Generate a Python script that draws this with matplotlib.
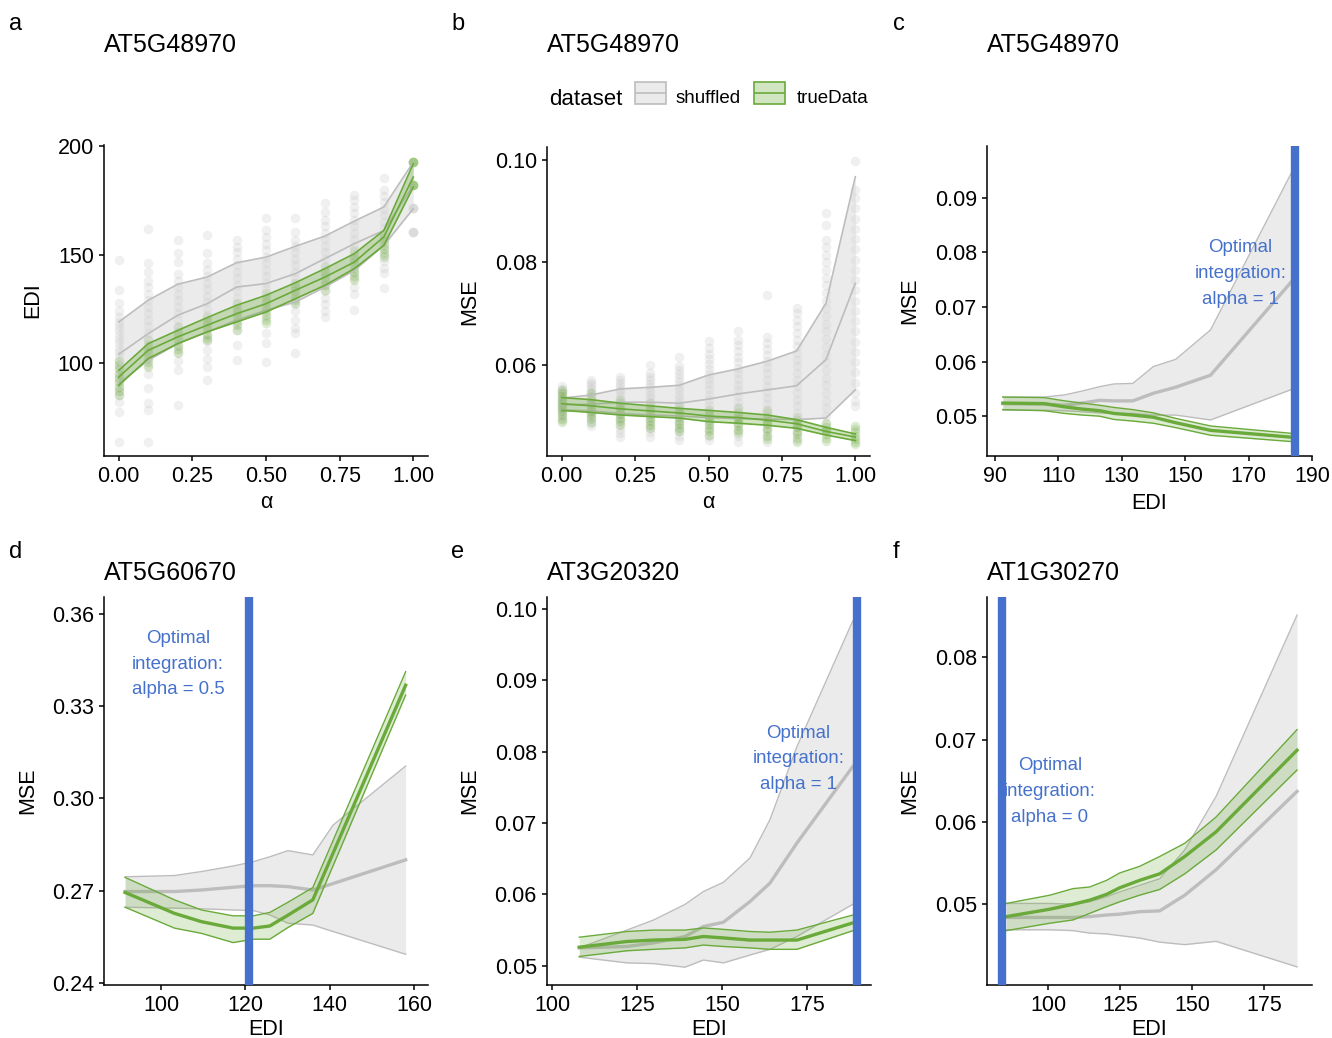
import matplotlib
matplotlib.use('Agg')
import matplotlib.pyplot as plt
from matplotlib.patches import Rectangle
from matplotlib.lines import Line2D
from matplotlib.ticker import FormatStrFormatter

plt.rcParams['font.family'] = ['Liberation Sans', 'DejaVu Sans']

# ---------------- data ----------------
alphas = [0.0, 0.1, 0.2, 0.3, 0.4, 0.5, 0.6, 0.7, 0.8, 0.9, 1.0]

# panel a: EDI vs alpha
a_shuf_hi = [118.9, 128.9, 136.3, 139.6, 146.2, 148.8, 153.8, 158.5, 165.4, 171.9, 192.6]
a_shuf_mean = [104.0, 113.5, 122.0, 127.3, 135.0, 136.6, 141.2, 148.1, 155.0, 161.1, 181.9]
a_shuf_lo = [90.5, 101.2, 108.9, 114.3, 119.7, 124.3, 128.1, 135.0, 142.7, 154.2, 171.1]
a_true_hi = [96.6, 108.9, 115.0, 120.9, 126.6, 131.2, 137.0, 143.5, 150.4, 161.1, 191.9]
a_true_mean = [93.5, 105.8, 112.0, 117.4, 122.7, 127.3, 133.5, 139.6, 146.5, 158.1, 185.7]
a_true_lo = [89.7, 102.0, 108.9, 114.3, 118.9, 123.5, 129.6, 135.8, 143.5, 154.2, 181.1]

a_shuf_points = [
    [147.5, 133.6, 127.5, 124, 121, 119, 117, 115, 113, 111, 109, 107, 105, 103, 101, 99, 97, 95, 93, 91, 89, 87, 85, 82, 77.6, 63.7],
    [161.6, 145.9, 142, 138, 135, 132, 129, 126, 123, 120, 117, 114, 111, 108, 105, 102, 99, 95, 88.3, 81.4, 78.3, 63.7],
    [156.7, 150.5, 146.7, 141, 138, 135, 132, 129, 126, 123, 120, 117, 114, 111, 108, 105, 101, 96.8, 80.6],
    [159, 150.5, 146, 143, 140, 137, 134, 131, 128, 125, 122, 119, 116, 113, 110, 106, 102, 98.3, 92.2],
    [156.7, 153.6, 151, 148, 145, 142, 139, 136, 133, 130, 127, 124, 121, 118, 115, 108.3, 101.4],
    [166.7, 161.3, 158, 155, 152, 149, 146, 143, 140, 137, 134, 131, 128, 125, 121.4, 113.7, 109, 100.6],
    [166.7, 160.5, 156.7, 154, 151, 148, 145, 142, 139, 136, 133, 130, 127, 124, 120, 116, 113.7, 104.5],
    [173.6, 169.7, 166, 163, 160, 157, 154, 151, 148, 145, 142, 139, 136, 133, 130, 127, 124, 121.4],
    [177.4, 175, 172, 169, 166, 163, 160, 157, 154, 151, 148, 145, 142, 139, 135, 132, 124.4],
    [185.1, 179.7, 177, 174, 171, 168, 165, 162, 159, 156, 153, 150, 147, 144, 141.3, 134.4],
    [171.3, 171.3, 171.3, 160.5, 160.5, 160.5],
]
a_true_points = [
    [101, 99, 97, 95, 93, 91, 89, 87, 85],
    [110.6, 108.5, 106.5, 104.5, 102.5, 100.5, 98.3],
    [116.7, 114.5, 112.5, 110.5, 108.5, 106.5, 104.5],
    [121.4, 119.5, 117.5, 115.5, 113.5, 111.5, 110.6],
    [127.5, 125.5, 123.5, 121.5, 119.5, 117.5, 115.2],
    [132.1, 130, 128, 126, 124, 122, 120, 118.3],
    [136.7, 135, 133, 131, 129, 127.5],
    [144.4, 142, 140, 138, 136, 133.6],
    [152, 150, 148, 146, 144, 142, 140, 138.2],
    [158.2, 156.5, 154.5, 152.5, 150.5, 149],
    [192.8, 192.8, 192.8, 192.8, 182, 182, 182, 182],
]

# panel b: MSE vs alpha
b_shuf_hi = [0.0535, 0.0541, 0.0553, 0.0556, 0.0560, 0.0580, 0.0592, 0.0607, 0.0627, 0.0720, 0.0967]
b_shuf_mean = [0.0522, 0.0523, 0.0527, 0.0527, 0.0525, 0.0533, 0.0543, 0.0551, 0.0559, 0.0610, 0.0759]
b_shuf_lo = [0.0512, 0.0510, 0.0505, 0.0502, 0.0500, 0.0497, 0.0495, 0.0494, 0.0493, 0.0496, 0.0551]
b_true_hi = [0.0536, 0.0532, 0.0525, 0.0520, 0.0515, 0.0511, 0.0507, 0.0502, 0.0493, 0.0478, 0.0465]
b_true_mean = [0.0524, 0.0520, 0.0514, 0.0510, 0.0506, 0.0500, 0.0497, 0.0492, 0.0485, 0.0470, 0.0459]
b_true_lo = [0.0511, 0.0507, 0.0502, 0.0499, 0.0496, 0.0489, 0.0486, 0.0482, 0.0476, 0.0463, 0.0452]

b_shuf_points = [
    [0.0558, 0.0553, 0.0548, 0.0544, 0.0540, 0.0536, 0.0532, 0.0528, 0.0524, 0.0520, 0.0516, 0.0512, 0.0508, 0.0503, 0.0498, 0.0493],
    [0.0571, 0.0565, 0.0560, 0.0555, 0.0550, 0.0545, 0.0540, 0.0535, 0.0530, 0.0525, 0.0520, 0.0515, 0.0510, 0.0505, 0.0500, 0.0494, 0.0487, 0.0480],
    [0.0577, 0.0570, 0.0564, 0.0558, 0.0552, 0.0546, 0.0540, 0.0534, 0.0528, 0.0522, 0.0516, 0.0510, 0.0504, 0.0498, 0.0492, 0.0485, 0.0475, 0.0466, 0.0460],
    [0.0600, 0.0584, 0.0577, 0.0570, 0.0563, 0.0556, 0.0549, 0.0542, 0.0535, 0.0528, 0.0521, 0.0514, 0.0507, 0.0500, 0.0493, 0.0485, 0.0476, 0.0468, 0.0460],
    [0.0616, 0.0597, 0.0590, 0.0582, 0.0574, 0.0566, 0.0558, 0.0550, 0.0542, 0.0534, 0.0526, 0.0518, 0.0510, 0.0502, 0.0494, 0.0486, 0.0478, 0.0470, 0.0462, 0.0454],
    [0.0646, 0.0632, 0.0622, 0.0612, 0.0602, 0.0592, 0.0582, 0.0572, 0.0562, 0.0552, 0.0542, 0.0532, 0.0522, 0.0512, 0.0502, 0.0492, 0.0482, 0.0472, 0.0462, 0.0454],
    [0.0665, 0.0649, 0.0638, 0.0627, 0.0616, 0.0605, 0.0594, 0.0583, 0.0572, 0.0561, 0.0550, 0.0539, 0.0528, 0.0517, 0.0506, 0.0495, 0.0484, 0.0473, 0.0462, 0.0450],
    [0.0737, 0.0655, 0.0643, 0.0631, 0.0619, 0.0607, 0.0595, 0.0583, 0.0571, 0.0559, 0.0547, 0.0535, 0.0523, 0.0511, 0.0499, 0.0487, 0.0475, 0.0463, 0.0450],
    [0.0711, 0.0701, 0.0688, 0.0675, 0.0662, 0.0649, 0.0636, 0.0623, 0.0610, 0.0597, 0.0584, 0.0571, 0.0558, 0.0545, 0.0532, 0.0519, 0.0506, 0.0493, 0.0480, 0.0467, 0.0454],
    [0.0896, 0.0873, 0.0844, 0.0830, 0.0815, 0.0800, 0.0785, 0.0770, 0.0755, 0.0740, 0.0725, 0.0710, 0.0695, 0.0680, 0.0665, 0.0650, 0.0635, 0.0620, 0.0605, 0.0590, 0.0575, 0.0560, 0.0545, 0.0530, 0.0515, 0.0500, 0.0485, 0.0470],
    [0.0997, 0.0942, 0.0925, 0.0905, 0.0885, 0.0865, 0.0845, 0.0825, 0.0805, 0.0785, 0.0765, 0.0745, 0.0725, 0.0705, 0.0685, 0.0665, 0.0645, 0.0625, 0.0605, 0.0585, 0.0565, 0.0545, 0.0530, 0.0519],
]
b_true_points = [
    [0.0551, 0.0545, 0.0539, 0.0533, 0.0527, 0.0521, 0.0515, 0.0509, 0.0502, 0.0495, 0.0489],
    [0.0545, 0.0538, 0.0531, 0.0524, 0.0517, 0.0510, 0.0503, 0.0496, 0.0489],
    [0.0532, 0.0525, 0.0518, 0.0511, 0.0504, 0.0497, 0.0490, 0.0483],
    [0.0525, 0.0518, 0.0511, 0.0504, 0.0497, 0.0490, 0.0483, 0.0476],
    [0.0519, 0.0512, 0.0505, 0.0498, 0.0491, 0.0484, 0.0477, 0.0470],
    [0.0512, 0.0505, 0.0498, 0.0491, 0.0484, 0.0477, 0.0470, 0.0463],
    [0.0515, 0.0508, 0.0501, 0.0494, 0.0487, 0.0480, 0.0473, 0.0466],
    [0.0512, 0.0505, 0.0498, 0.0491, 0.0484, 0.0477, 0.0470, 0.0462, 0.0456],
    [0.0499, 0.0492, 0.0485, 0.0478, 0.0471, 0.0464, 0.0457, 0.0450],
    [0.0486, 0.0479, 0.0472, 0.0465, 0.0458, 0.0451],
    [0.0480, 0.0474, 0.0468, 0.0462, 0.0456, 0.0450, 0.0445],
]

# panel c: MSE vs EDI, AT5G48970
c_edi = [92.5, 105.5, 112, 117.5, 123, 127.5, 133.5, 140, 147, 158, 184.5]
c_shuf_hi = [0.0535, 0.0535, 0.0539, 0.0546, 0.0554, 0.0559, 0.0560, 0.0591, 0.0604, 0.0658, 0.0957]
c_shuf_mean = [0.0523, 0.0522, 0.0520, 0.0524, 0.0529, 0.0528, 0.0528, 0.0542, 0.0553, 0.0575, 0.0753]
c_shuf_lo = [0.0511, 0.0511, 0.0510, 0.0508, 0.0506, 0.0505, 0.0505, 0.0502, 0.0502, 0.0493, 0.0551]
c_true_hi = [0.0535, 0.0534, 0.0528, 0.0524, 0.0520, 0.0516, 0.0512, 0.0506, 0.0496, 0.0482, 0.0468]
c_true_mean = [0.0524, 0.0523, 0.0517, 0.0513, 0.0510, 0.0505, 0.0502, 0.0498, 0.0488, 0.0474, 0.0461]
c_true_lo = [0.0512, 0.0510, 0.0505, 0.0502, 0.0500, 0.0494, 0.0491, 0.0487, 0.0479, 0.0465, 0.0453]
c_opt_edi = 184.5

# panel d: AT5G60670
d_edi = [91.5, 103.2, 109.6, 117.1, 121.9, 125.8, 130.1, 136.0, 140.8, 158.0]
d_shuf_hi = [0.2745, 0.2749, 0.2762, 0.2780, 0.2794, 0.2810, 0.2830, 0.2816, 0.2913, 0.3105]
d_shuf_mean = [0.2697, 0.2697, 0.2702, 0.2711, 0.2716, 0.2716, 0.2713, 0.2702, 0.2723, 0.2800]
d_shuf_lo = [0.2646, 0.2643, 0.2641, 0.2637, 0.2635, 0.2621, 0.2594, 0.2588, 0.2567, 0.2493]
d_true_hi = [0.2743, 0.2670, 0.2637, 0.2618, 0.2618, 0.2629, 0.2662, 0.2710, 0.2863, 0.3412]
d_true_mean = [0.2694, 0.2626, 0.2599, 0.2578, 0.2578, 0.2585, 0.2620, 0.2670, 0.2822, 0.3368]
d_true_lo = [0.2646, 0.2578, 0.2561, 0.2531, 0.2542, 0.2542, 0.2580, 0.2626, 0.2781, 0.3336]
d_opt_edi = 120.9

# panel e: AT3G20320
e_edi = [108.0, 122.0, 129.8, 139.1, 144.5, 150.4, 158.2, 164.1, 172.0, 188.4]
e_shuf_hi = [0.0525, 0.0550, 0.0564, 0.0586, 0.0604, 0.0617, 0.0651, 0.0705, 0.0807, 0.0983]
e_shuf_mean = [0.0525, 0.0527, 0.0532, 0.0541, 0.0555, 0.0561, 0.0590, 0.0616, 0.0672, 0.0779]
e_shuf_lo = [0.0512, 0.0504, 0.0503, 0.0498, 0.0508, 0.0504, 0.0515, 0.0523, 0.0541, 0.0586]
e_true_hi = [0.0540, 0.0548, 0.0550, 0.0550, 0.0553, 0.0551, 0.0548, 0.0547, 0.0550, 0.0571]
e_true_mean = [0.0526, 0.0534, 0.0536, 0.0537, 0.0541, 0.0539, 0.0536, 0.0536, 0.0536, 0.0560]
e_true_lo = [0.0513, 0.0521, 0.0523, 0.0525, 0.0529, 0.0527, 0.0525, 0.0523, 0.0523, 0.0549]
e_opt_edi = 189.7

# panel f: AT1G30270
f_edi = [85.5, 100.6, 108.7, 114.5, 120.3, 124.9, 131.8, 138.8, 147.5, 158.4, 186.5]
f_shuf_hi = [0.0501, 0.0501, 0.0500, 0.0503, 0.0509, 0.0515, 0.0523, 0.0531, 0.0566, 0.0631, 0.0851]
f_shuf_mean = [0.0484, 0.0484, 0.0484, 0.0485, 0.0487, 0.0488, 0.0491, 0.0492, 0.0511, 0.0542, 0.0637]
f_shuf_lo = [0.0469, 0.0469, 0.0468, 0.0465, 0.0464, 0.0462, 0.0459, 0.0454, 0.0451, 0.0455, 0.0424]
f_true_hi = [0.0501, 0.0511, 0.0519, 0.0521, 0.0529, 0.0538, 0.0546, 0.0558, 0.0574, 0.0606, 0.0712]
f_true_mean = [0.0485, 0.0494, 0.0500, 0.0505, 0.0512, 0.0520, 0.0529, 0.0537, 0.0558, 0.0588, 0.0687]
f_true_lo = [0.0468, 0.0477, 0.0481, 0.0489, 0.0497, 0.0503, 0.0511, 0.0518, 0.0537, 0.0566, 0.0663]
f_opt_edi = 84.0

genes = ['AT5G48970', 'AT5G48970', 'AT5G48970', 'AT5G60670', 'AT3G20320', 'AT1G30270']
panel_letters = ['a', 'b', 'c', 'd', 'e', 'f']
opt_labels = ['Optimal\nintegration:\nalpha = 1', 'Optimal\nintegration:\nalpha = 0.5',
              'Optimal\nintegration:\nalpha = 1', 'Optimal\nintegration:\nalpha = 0']
legend_labels = ['shuffled', 'trueData']

# ---------------- style ----------------
GREEN = '#6aaa3a'
GREEN_FILL = '#6aaa3a'
GRAY = '#bdbdbd'
GRAY_FILL = '#d4d4d4'
BLUE = '#4571cc'
TICK_FS = 15.5
LAB_FS = 15.5

W, H = 1332, 1038
fig = plt.figure(figsize=(W / 100, H / 100), dpi=100)


def add_ax(l, t, r, b):
    ax = fig.add_axes([l / W, 1 - b / H, (r - l) / W, (b - t) / H])
    for s in ['top', 'right']:
        ax.spines[s].set_visible(False)
    for s in ['left', 'bottom']:
        ax.spines[s].set_linewidth(1.1)
    ax.tick_params(length=3.8, width=1.1, labelsize=TICK_FS, pad=3.5, colors='black')
    return ax


def ribbon(ax, x, lo, mid, hi, color, fill, falpha, lw_edge, lw_mid, z=2):
    ax.fill_between(x, lo, hi, color=fill, alpha=falpha, lw=0, zorder=z)
    ax.plot(x, lo, color=color, lw=lw_edge, zorder=z + 0.1)
    ax.plot(x, hi, color=color, lw=lw_edge, zorder=z + 0.1)
    ax.plot(x, mid, color=color, lw=lw_mid, zorder=z + 0.2)


def scatter_cols(ax, pts, color, a):
    for al, vals in zip(alphas, pts):
        ax.scatter([al] * len(vals), vals, s=48, color=color, alpha=a, lw=0, zorder=1)


# ---- panel a ----
axa = add_ax(104, 145, 428, 456)
scatter_cols(axa, a_shuf_points, '#c4c4c4', 0.25)
scatter_cols(axa, a_true_points, GREEN, 0.22)
ribbon(axa, alphas, a_shuf_lo, a_shuf_mean, a_shuf_hi, GRAY, GRAY_FILL, 0.45, 1.2, 1.2)
ribbon(axa, alphas, a_true_lo, a_true_mean, a_true_hi, GREEN, GREEN_FILL, 0.3, 1.2, 1.2, z=3)
axa.set_xlim(-0.05, 1.05)
axa.set_ylim(57.1, 200.5)
axa.set_xticks([0, 0.25, 0.5, 0.75, 1.0])
axa.xaxis.set_major_formatter(FormatStrFormatter('%.2f'))
axa.set_yticks([100, 150, 200])
axa.set_xlabel('α', fontsize=LAB_FS, labelpad=3.5)
axa.set_ylabel('EDI', fontsize=LAB_FS, labelpad=10)

# ---- panel b ----
axb = add_ax(547, 147, 870, 456)
scatter_cols(axb, b_shuf_points, '#c4c4c4', 0.25)
scatter_cols(axb, b_true_points, GREEN, 0.22)
ribbon(axb, alphas, b_shuf_lo, b_shuf_mean, b_shuf_hi, GRAY, GRAY_FILL, 0.45, 1.2, 1.2)
ribbon(axb, alphas, b_true_lo, b_true_mean, b_true_hi, GREEN, GREEN_FILL, 0.3, 1.2, 1.2, z=3)
axb.set_xlim(-0.05, 1.05)
axb.set_ylim(0.0422, 0.1025)
axb.set_xticks([0, 0.25, 0.5, 0.75, 1.0])
axb.xaxis.set_major_formatter(FormatStrFormatter('%.2f'))
axb.set_yticks([0.06, 0.08, 0.10])
axb.yaxis.set_major_formatter(FormatStrFormatter('%.2f'))
axb.set_xlabel('α', fontsize=LAB_FS, labelpad=3.5)
axb.set_ylabel('MSE', fontsize=LAB_FS, labelpad=10)


def edi_panel(ax, x, slo, smean, shi, tlo, tmean, thi, opt, label, tx, ty, xpad):
    ribbon(ax, x, slo, smean, shi, GRAY, GRAY_FILL, 0.45, 1.0, 2.4)
    ribbon(ax, x, tlo, tmean, thi, GREEN, GREEN_FILL, 0.22, 1.0, 2.4, z=3)
    ax.axvline(opt, color=BLUE, lw=6, zorder=5)
    ax.text(tx, ty, label, color=BLUE, fontsize=13.4, ha='center', va='center',
            linespacing=1.68, zorder=6)
    ax.set_xlabel('EDI', fontsize=LAB_FS, labelpad=xpad)
    ax.set_ylabel('MSE', fontsize=LAB_FS, labelpad=10)
    ax.yaxis.set_major_formatter(FormatStrFormatter('%.2f'))


# ---- panel c ----
axc = add_ax(987, 146, 1312, 456)
edi_panel(axc, c_edi, c_shuf_lo, c_shuf_mean, c_shuf_hi, c_true_lo, c_true_mean, c_true_hi,
          c_opt_edi, opt_labels[0], 167.5, 0.0762, 4)
axc.set_xlim(87.5, 189.1)
axc.set_ylim(0.0427, 0.0995)
axc.set_xticks([90, 110, 130, 150, 170, 190])
axc.set_yticks([0.05, 0.06, 0.07, 0.08, 0.09])

# ---- panel d ----
axd = add_ax(104, 597, 428, 985)
edi_panel(axd, d_edi, d_shuf_lo, d_shuf_mean, d_shuf_hi, d_true_lo, d_true_mean, d_true_hi,
          d_opt_edi, opt_labels[1], 104.0, 0.3437, 2)
axd.set_xlim(86.5, 163.3)
axd.set_ylim(0.2393, 0.3655)
axd.set_xticks([100, 120, 140, 160])
axd.set_yticks([0.24, 0.27, 0.30, 0.33, 0.36])

# ---- panel e ----
axe = add_ax(547, 597, 871, 985)
edi_panel(axe, e_edi, e_shuf_lo, e_shuf_mean, e_shuf_hi, e_true_lo, e_true_mean, e_true_hi,
          e_opt_edi, opt_labels[2], 172.4, 0.0790, 2)
axe.set_xlim(98.5, 193.8)
axe.set_ylim(0.0473, 0.1017)
axe.set_xticks([100, 125, 150, 175])
axe.set_yticks([0.05, 0.06, 0.07, 0.08, 0.09, 0.10])

# ---- panel f ----
axf = add_ax(987, 597, 1312, 985)
edi_panel(axf, f_edi, f_shuf_lo, f_shuf_mean, f_shuf_hi, f_true_lo, f_true_mean, f_true_hi,
          f_opt_edi, opt_labels[3], 100.7, 0.0637, 2)
axf.set_xlim(78.8, 191.7)
axf.set_ylim(0.0402, 0.0873)
axf.set_xticks([100, 125, 150, 175])
axf.set_yticks([0.05, 0.06, 0.07, 0.08])

# ---- titles and panel letters ----
def ftext(x, y, s, **kw):
    fig.text(x / W, 1 - y / H, s, **kw)

letter_pos = [(9, 30), (451, 30), (893, 30), (9, 558), (451, 558), (893, 558)]
title_pos = [(104, 52), (547, 52), (987, 52), (104, 580), (547, 580), (987, 580)]
for (lx, ly), (tx, ty), letter, gene in zip(letter_pos, title_pos, panel_letters, genes):
    ftext(lx, ly, letter, fontsize=17, va='baseline', ha='left')
    ftext(tx, ty, gene, fontsize=18, va='baseline', ha='left')

# ---- legend ----
ftext(549, 105, 'dataset', fontsize=16, va='baseline', ha='left')
key_specs = [(635, GRAY, GRAY_FILL, 0.45, 676), (754, GREEN, GREEN_FILL, 0.3, 797)]
for (kx, lc, fc, fa, txx), lab in zip(key_specs, legend_labels):
    fig.add_artist(Rectangle((kx / W, 1 - 104 / H), 31 / W, 22 / H, transform=fig.transFigure,
                             facecolor=fc, alpha=fa, edgecolor='none'))
    fig.add_artist(Rectangle((kx / W, 1 - 104 / H), 31 / W, 22 / H, transform=fig.transFigure,
                             facecolor='none', edgecolor=lc, lw=1.2))
    fig.add_artist(Line2D([(kx + 1) / W, (kx + 30) / W], [1 - 93 / H, 1 - 93 / H],
                          transform=fig.transFigure, color=lc, lw=1.2))
    ftext(txx, 103, lab, fontsize=13.5, va='baseline', ha='left')

fig.savefig('out.png', dpi=100)
